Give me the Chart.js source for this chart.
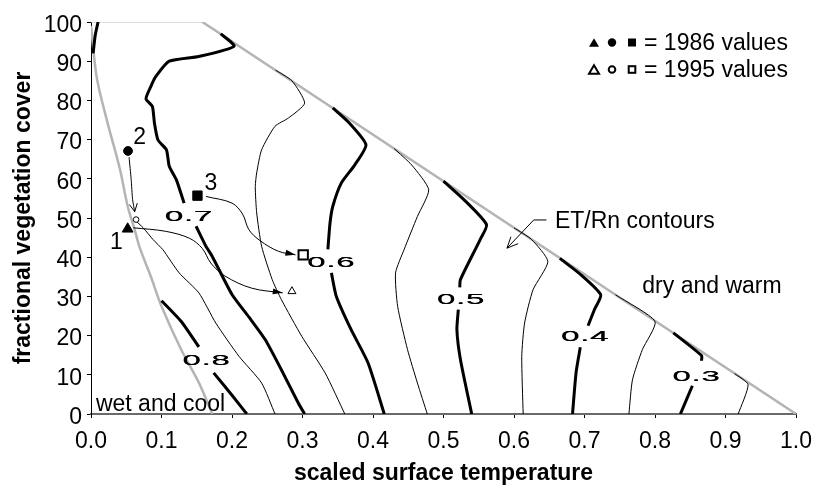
<!DOCTYPE html>
<html><head><meta charset="utf-8">
<script src="https://cdn.jsdelivr.net/npm/chart.js@4.4.1/dist/chart.umd.min.js"></script>
<style>html,body{margin:0;padding:0;background:#fff}#wrap{width:822px;height:488px}</style>
</head><body><div id="wrap"><canvas id="c" width="822" height="488"></canvas></div>
<script>
// ---- axes ----
const xTickStep = 0.1;
const yTickStep = 10;
const xLabel = 'scaled surface temperature';
const yLabel = 'fractional vegetation cover';

// ---- domain boundaries ----
const boundaryWet = [[0,99],[0.008,86],[0.022,75.3],[0.041,62.5],[0.052,53],[0.062,47],[0.069,42.5],[0.085,35],[0.1,27.5],[0.128,16.4],[0.153,8],[0.172,0]];
const boundaryTop = [[0,100],[0.158,100]];
const boundaryDry = [[0.158,100],[1.0,0]];

// ---- ET/Rn contours (thick = labelled, thin = intermediate) ----
const c80a = [[0.010,100],[0.006,96.6],[0.003,92]];
const c80b = [[0.100,28.9],[0.128,23.6],[0.153,17.1]];
const c80c = [[0.174,10.5],[0.200,4.8],[0.221,0]];
const c70a = [[0.184,97],[0.203,93.8],[0.153,91.2],[0.111,90],[0.092,86.1],[0.085,83.6],[0.078,80.4],[0.087,78.5],[0.090,74.2],[0.095,69.9],[0.107,67.4],[0.111,63.2],[0.121,59.8],[0.132,53.8]];
const c70b = [[0.149,47.9],[0.163,42.8],[0.172,40.2],[0.200,30.5],[0.225,24.5],[0.247,19],[0.270,11.3],[0.294,2.8],[0.303,0]];
const c60a = [[0.343,78.1],[0.365,74.5],[0.390,68.7],[0.374,63.5],[0.355,58.9],[0.343,53],[0.339,48.7],[0.336,42]];
const c60b = [[0.341,36],[0.348,30],[0.369,21.5],[0.393,13],[0.416,0]];
const c50a = [[0.500,59.4],[0.530,54.5],[0.561,48.3],[0.552,44.5],[0.524,34.3],[0.523,32.3]];
const c50b = [[0.521,26.6],[0.519,21.5],[0.524,13.9],[0.540,0]];
const c40a = [[0.665,39.7],[0.695,35.5],[0.723,30.4],[0.714,26.6],[0.705,22.5]];
const c40b = [[0.694,17],[0.688,10.5],[0.683,0]];
const c30a = [[0.826,20.7],[0.866,14.9],[0.866,13.6]];
const c30b = [[0.853,7.2],[0.836,0]];
const c75 = [[0.062,49.5],[0.074,47.5],[0.088,44.5],[0.102,41.9],[0.125,36],[0.153,30.9],[0.177,23.2],[0.210,14.7],[0.242,7.9],[0.261,0]];
const c65 = [[0.262,87.7],[0.285,85],[0.303,79.3],[0.280,75.5],[0.261,73.4],[0.242,67.4],[0.235,61.5],[0.233,58],[0.235,51.3],[0.242,42.8],[0.257,34.3],[0.270,29.2],[0.299,19.8],[0.332,10.5],[0.360,0]];
const c55 = [[0.430,67.7],[0.455,63.5],[0.479,57.2],[0.463,50.4],[0.444,41.9],[0.432,36],[0.435,27.4],[0.449,16.4],[0.463,7.9],[0.477,0]];
const c45 = [[0.600,47.5],[0.625,44.5],[0.648,38.9],[0.627,31.7],[0.615,23.2],[0.611,14.7],[0.613,0]];
const c35 = [[0.744,30.4],[0.800,23.6],[0.782,16.4],[0.768,8.7],[0.763,0]];
const c25 = [[0.913,10.3],[0.932,7.5],[0.918,0]];

// ---- contour labels ----
const contourLabels = ['0.8','0.7','0.6','0.5','0.4','0.3'];
const contourLabelX = [0.163,0.138,0.340,0.524,0.700,0.858];
const contourLabelY = [13.6,50.2,38.5,29.2,19.6,9.6];

// ---- site values ----
const site1986 = {tri:[0.052,47.2], circ:[0.0525,67.1], sq:[0.151,55.7]};
const site1995 = {tri:[0.285,31.3], circ:[0.064,49.6], sq:[0.301,40.6]};
const siteNames = ['1','2','3'];
const siteNameX = [0.036,0.069,0.170];
const siteNameY = [43.7,70.5,58.8];

// ---- arrows ----
const arrowTri = [[0.060,47.5],[0.106,46.6],[0.140,44.8],[0.158,42.2],[0.170,38.5],[0.190,35.2],[0.228,32.1],[0.272,30.9]];
const arrowCirc = [[0.054,65.5],[0.057,59.8],[0.059,54.7],[0.062,51.6]];
const arrowSq = [[0.163,55.5],[0.200,53.8],[0.215,51],[0.224,47],[0.240,44.2],[0.266,41.5],[0.290,40.6]];
const arrowET = [[0.646,49.5],[0.628,49.5],[0.590,42.3]];

// ---- text notes ----
const notes = ['wet and cool','dry and warm','ET/Rn contours'];
const noteX = [0.007,0.782,0.658];
const noteY = [0.8,30.9,47.5];
const legendTexts = ['= 1986 values','= 1995 values'];

const FONT = '"Liberation Sans", Arial, sans-serif';
const pts = a => a.map(p => ({x:p[0], y:p[1]}));

function lineDs(arr, w, color, tension){
  return {data:pts(arr), showLine:true, borderColor:color, borderWidth:w, pointRadius:0,
    tension:tension||0, borderJoinStyle:'round', borderCapStyle:'butt', fill:false};
}
function ptDs(p, style, r, filled, bw){
  return {data:pts([p]), showLine:false, pointStyle:style, pointRadius:r, pointHoverRadius:r,
    pointBackgroundColor: filled ? '#000' : '#fff', pointBorderColor:'#000', pointBorderWidth:bw};
}

const datasets = [
  ptDs(site1986.tri,'triangle',6.2,true,1),
  ptDs(site1986.circ,'circle',4.4,true,1),
  ptDs(site1986.sq,'rect',6.6,true,1),
  ptDs(site1995.tri,'triangle',4.6,false,1),
  ptDs(site1995.circ,'circle',2.8,false,1),
  ptDs(site1995.sq,'rect',6.6,false,2),
  lineDs(arrowTri,1,'#000',0.35),
  lineDs(arrowCirc,1,'#000',0.2),
  lineDs(arrowSq,1,'#000',0.35),
  lineDs(arrowET,1,'#000',0),
];
[c80a,c80b,c80c,c70a,c70b,c60a,c60b,c50a,c50b,c40a,c40b,c30a,c30b].forEach(c=>datasets.push(lineDs(c,3,'#000',0.2)));
[c75,c65,c55,c45,c35,c25].forEach(c=>datasets.push(lineDs(c,1,'#000',0.2)));
datasets.push(lineDs(boundaryWet,2.5,'#b4b4b4',0.3));
datasets.push(lineDs(boundaryTop,1,'#bdbdbd',0));
datasets.push(lineDs(boundaryDry,2.5,'#b4b4b4',0));

function arrowHead(ctx, from, to, len, half, filled){
  const a = Math.atan2(to.y-from.y, to.x-from.x);
  const bx = to.x - len*Math.cos(a), by = to.y - len*Math.sin(a);
  const nx = -Math.sin(a)*half, ny = Math.cos(a)*half;
  ctx.beginPath();
  ctx.moveTo(bx+nx, by+ny); ctx.lineTo(to.x,to.y); ctx.lineTo(bx-nx, by-ny);
  if(filled){ ctx.closePath(); ctx.fill(); } else { ctx.stroke(); }
}

const annot = {
  id:'annot',
  afterDatasetsDraw(chart){
    const {ctx, scales:{x,y}, chartArea:ca} = chart;
    const P = p => ({x:x.getPixelForValue(p[0]), y:y.getPixelForValue(p[1])});
    ctx.save();
    ctx.fillStyle='#000'; ctx.strokeStyle='#000'; ctx.lineWidth=1;
    // arrowheads
    const heads = [[arrowTri,10,3,true],[arrowSq,10,3,true],[arrowCirc,8,4,false],[arrowET,11,5,false]];
    heads.forEach(h=>{
      const a=h[0], n=a.length;
      const to=P(a[n-1]);
      const back=P(a[n-2]);
      arrowHead(ctx, back, to, h[1], h[2], h[3]);
    });
    // contour labels (wide lettering)
    ctx.font = '15px ' + FONT;
    ctx.textAlign='center'; ctx.textBaseline='middle';
    contourLabels.forEach((t,i)=>{
      const c = P([contourLabelX[i], contourLabelY[i]]);
      t.split('').forEach((ch,k)=>{
        ctx.save(); ctx.translate(c.x+(k-1)*14.5, c.y); ctx.scale(2.2,1);
        ctx.fillText(ch,0,0); ctx.fillText(ch,0.25,0); ctx.restore();
      });
    });
    // site names
    ctx.font = '23px ' + FONT;
    siteNames.forEach((t,i)=>{ const c=P([siteNameX[i],siteNameY[i]]); ctx.fillText(t,c.x,c.y); });
    // notes
    ctx.textAlign='left'; ctx.textBaseline='alphabetic';
    notes.forEach((t,i)=>{ const c=P([noteX[i],noteY[i]]); ctx.fillText(t,c.x,c.y); });
    // legend (top right)
    const lx = ca.right - 152;
    const rows = [ca.top+28, ca.top+55];
    legendTexts.forEach((t,i)=>ctx.fillText(t, lx, rows[i]));
    const symX = [ca.right-202, ca.right-184, ca.right-164];
    rows.forEach((base,i)=>{
      const cy = base - 7.5;
      const filled = i===0;
      ctx.lineWidth = 2;
      ctx.beginPath();
      ctx.moveTo(symX[0], cy-4.2); ctx.lineTo(symX[0]+5, cy+4.2); ctx.lineTo(symX[0]-5, cy+4.2); ctx.closePath();
      filled ? ctx.fill() : ctx.stroke();
      ctx.beginPath(); ctx.arc(symX[1], cy, filled?4.2:3.3, 0, Math.PI*2);
      filled ? ctx.fill() : ctx.stroke();
      if(filled){ ctx.fillRect(symX[2]-4, cy-4, 8, 8); } else { ctx.strokeRect(symX[2]-3.3, cy-3.3, 6.6, 6.6); }
    });
    ctx.restore();
  }
};

new Chart(document.getElementById('c'), {
  type:'scatter',
  data:{datasets},
  options:{
    responsive:false, animation:false, devicePixelRatio:1,
    layout:{padding:{top:22,right:20,left:0,bottom:0}},
    plugins:{legend:{display:false}, tooltip:{enabled:false}},
    events:[],
    scales:{
      x:{type:'linear', min:0, max:1,
        afterFit(s){ s.height = 74; },
        border:{display:true, color:'#6a6a6a', width:2},
        grid:{display:true, drawOnChartArea:false, drawTicks:true, tickLength:4, tickColor:'#000'},
        ticks:{stepSize:xTickStep, color:'#000', padding:10, font:{family:FONT, size:23},
          callback:v=>Number(v).toFixed(1), maxRotation:0, autoSkip:false},
        title:{display:true, text:xLabel, color:'#000', font:{family:FONT, size:23, weight:'bold'}, padding:{top:0,bottom:1}}
      },
      y:{type:'linear', min:0, max:100,
        afterFit(s){ s.width = 91; },
        border:{display:true, color:'#000', width:1},
        grid:{display:true, drawOnChartArea:false, drawTicks:true, tickLength:4, tickColor:'#000'},
        ticks:{stepSize:yTickStep, color:'#000', padding:5, labelOffset:3.5, font:{family:FONT, size:23}, autoSkip:false},
        title:{display:true, text:yLabel, color:'#000', font:{family:FONT, size:23, weight:'bold'}, padding:{top:10,bottom:0}}
      }
    }
  },
  plugins:[annot]
});
</script>
</body></html>
